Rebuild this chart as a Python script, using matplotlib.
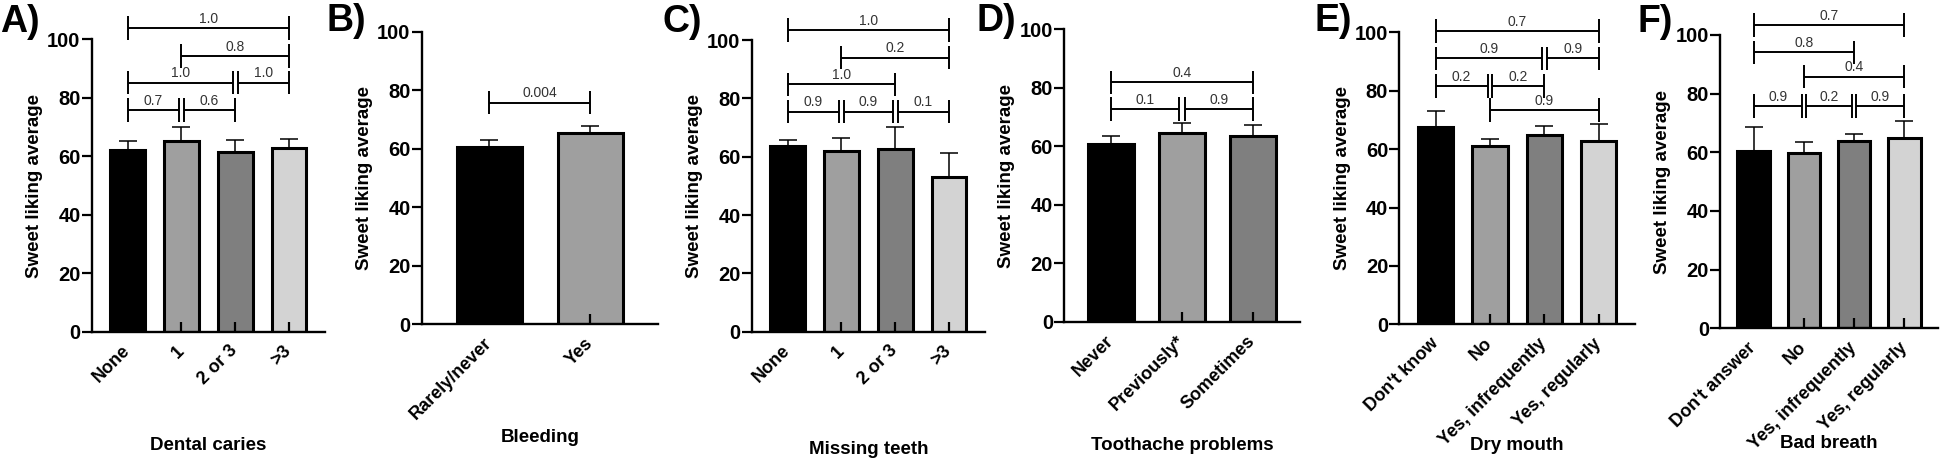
import matplotlib
matplotlib.use("Agg")
import matplotlib.pyplot as plt

plt.rcParams['font.family'] = ['Liberation Sans', 'DejaVu Sans']

# ---------------- data ----------------
A_cats = ["None", "1", "2 or 3", ">3"]
A_means = [62.0, 65.2, 61.6, 62.8]
A_errs = [3.1, 4.9, 4.0, 3.1]
A_brackets = [(0, 1, 75.8, "0.7"), (1, 2, 75.8, "0.6"), (0, 2, 85.2, "1.0"),
              (2, 3, 85.2, "1.0"), (1, 3, 94.3, "0.8"), (0, 3, 103.8, "1.0")]

B_cats = ["Rarely/never", "Yes"]
B_means = [60.4, 65.2]
B_errs = [2.6, 2.4]
B_brackets = [(0, 1, 75.7, "0.004")]

C_cats = ["None", "1", "2 or 3", ">3"]
C_means = [63.7, 61.8, 62.8, 53.2]
C_errs = [2.1, 4.7, 7.5, 8.0]
C_brackets = [(0, 1, 75.4, "0.9"), (1, 2, 75.4, "0.9"), (2, 3, 75.4, "0.1"),
              (0, 2, 84.8, "1.0"), (1, 3, 93.9, "0.2"), (0, 3, 103.4, "1.0")]

D_cats = ["Never", "Previously*", "Sometimes"]
D_means = [60.9, 64.6, 63.5]
D_errs = [2.7, 3.3, 3.6]
D_brackets = [(0, 1, 72.7, "0.1"), (1, 2, 72.7, "0.9"), (0, 2, 81.9, "0.4")]

E_cats = ["Don't know", "No", "Yes, infrequently", "Yes, regularly"]
E_means = [67.4, 60.9, 64.8, 62.9]
E_errs = [5.8, 2.6, 3.2, 5.7]
E_brackets = [(1, 3, 73.4, "0.9"), (0, 1, 81.6, "0.2"), (1, 2, 81.6, "0.2"),
              (0, 2, 91.1, "0.9"), (2, 3, 91.1, "0.9"), (0, 3, 100.5, "0.7")]

F_cats = ["Don't answer", "No", "Yes, infrequently", "Yes, regularly"]
F_means = [60.6, 59.9, 63.8, 65.0]
F_errs = [8.0, 3.5, 2.3, 5.6]
F_brackets = [(0, 1, 75.8, "0.9"), (1, 2, 75.8, "0.2"), (2, 3, 75.8, "0.9"),
              (1, 3, 85.8, "0.4"), (0, 2, 94.1, "0.8"), (0, 3, 103.4, "0.7")]

panel_letters = ["A)", "B)", "C)", "D)", "E)", "F)"]
xlabels = ["Dental caries", "Bleeding", "Missing teeth", "Toothache problems",
           "Dry mouth", "Bad breath"]
ylabel = "Sweet liking average"
yticks = [0, 20, 40, 60, 80, 100]

bar_colors = ["#000000", "#9f9f9f", "#7f7f7f", "#d3d3d3"]

# ---------------- layout (pixels) ----------------
W, H = 1958, 462
# (x0, x1, ybottom, ytop), letter (x, ytop), xlabel center y
layout = [
    ((91.7, 325, 331.7, 39.3), (0, 4), 445),
    ((421.7, 658, 324.0, 31.7), (327, 3), 438),
    ((751.7, 985, 331.7, 40.0), (663, 4), 449),
    ((1064, 1300, 321.7, 29.3), (977, 3), 445),
    ((1399.3, 1635, 324.3, 32.3), (1315, 3), 445),
    ((1720, 1938, 328.3, 35.0), (1638, 4), 443),
]

panels = [
    (A_cats, A_means, A_errs, A_brackets),
    (B_cats, B_means, B_errs, B_brackets),
    (C_cats, C_means, C_errs, C_brackets),
    (D_cats, D_means, D_errs, D_brackets),
    (E_cats, E_means, E_errs, E_brackets),
    (F_cats, F_means, F_errs, F_brackets),
]

fig = plt.figure(figsize=(W / 100, H / 100), dpi=100)

for k, ((cats, means, errs, brackets), (box, letter_pos, xl_y)) in enumerate(zip(panels, layout)):
    x0, x1, yb, yt = box
    ax = fig.add_axes([x0 / W, 1 - yb / H, (x1 - x0) / W, (yb - yt) / H])
    n = len(cats)
    xs = list(range(n))
    ax.bar(xs, means, width=0.65, color=bar_colors[:n], edgecolor="black",
           linewidth=2.2, zorder=2)
    ax.errorbar(xs, means, yerr=[[0] * n, errs], fmt="none", ecolor="black",
                elinewidth=1.1, capsize=6.5, capthick=1.1, zorder=1.5)
    ax.set_xlim(-0.67, n - 1 + 0.67)
    ax.set_ylim(0, 100)
    ax.set_yticks(yticks)
    ax.set_xticks(xs)
    ax.set_xticklabels(cats, rotation=45, ha="right", va="center",
                       rotation_mode="anchor", fontsize=13, fontweight="bold")
    for lab in ax.get_yticklabels():
        lab.set_fontweight("bold")
        lab.set_fontsize(14.5)
    ax.tick_params(axis="y", direction="out", length=7, width=1.6, pad=1)
    ax.tick_params(axis="x", direction="in", length=7, width=1.6, pad=12)
    ax.spines["top"].set_visible(False)
    ax.spines["right"].set_visible(False)
    ax.spines["left"].set_linewidth(1.7)
    ax.spines["bottom"].set_linewidth(1.7)
    ax.set_axisbelow(False)
    ax.set_ylabel(ylabel, fontsize=13.5, fontweight="bold", labelpad=3)
    ax.set_xlabel(xlabels[k], fontsize=13.5, fontweight="bold")
    ax.xaxis.set_label_coords(0.5, -(xl_y - yb) / (yb - yt))
    ax.xaxis.label.set_va("center")

    # significance brackets
    for (i, j, lvl, txt) in brackets:
        left = i + (0.045 if any(b[1] == i and b[2] == lvl for b in brackets) else 0)
        right = j - (0.045 if any(b[0] == j and b[2] == lvl for b in brackets) else 0)
        ax.plot([left, right], [lvl, lvl], color="black", lw=1.4, clip_on=False,
                solid_capstyle="butt")
        for xe in (left, right):
            ax.plot([xe, xe], [lvl - 4, lvl + 4], color="black", lw=1.4,
                    clip_on=False, solid_capstyle="butt")
        ax.text((left + right) / 2, lvl + 0.8, txt, ha="center", va="bottom",
                fontsize=10, color="#333333", clip_on=False)

    fig.text(letter_pos[0] / W, 1 - letter_pos[1] / H, panel_letters[k],
             fontsize=27, fontweight="bold", ha="left", va="top")

fig.savefig("out.png", dpi=100)
